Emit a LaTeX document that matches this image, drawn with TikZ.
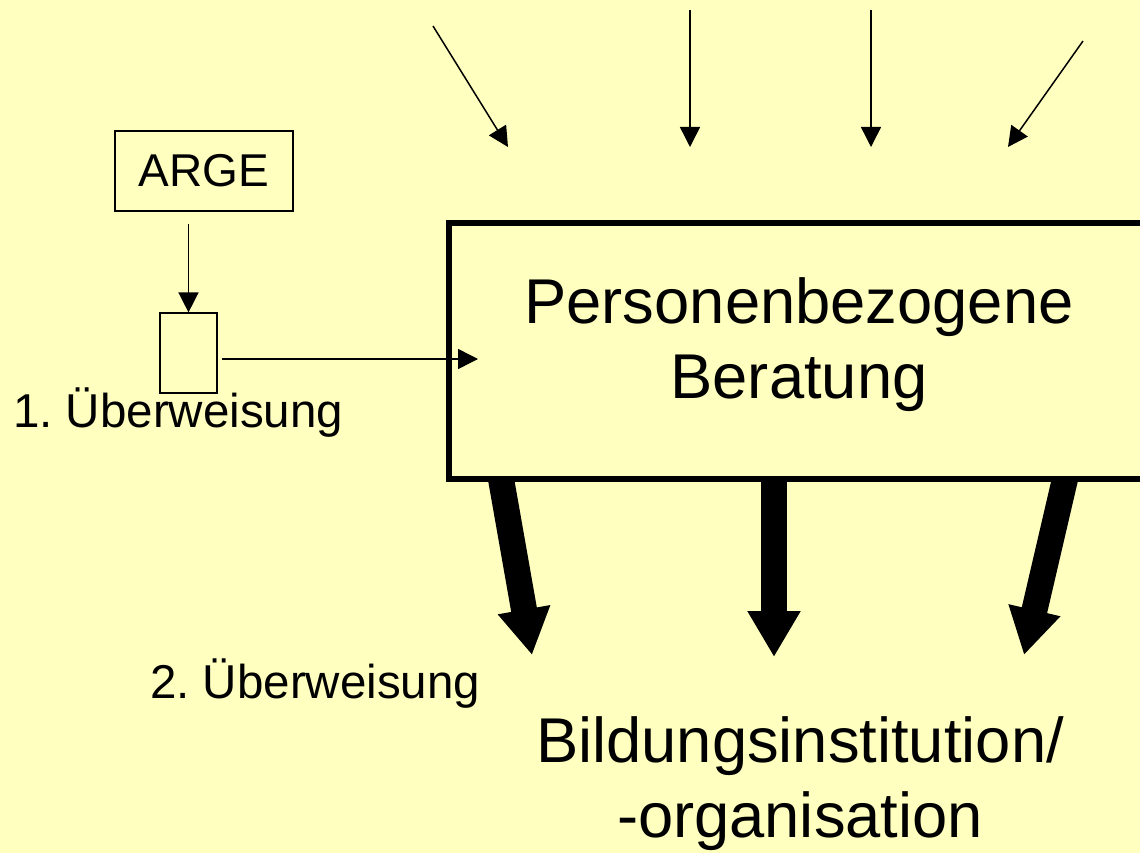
\documentclass[tikz,border=0pt]{standalone}
\usepackage{fontspec}
\setmainfont{Liberation Sans}
\usetikzlibrary{arrows.meta}
\frenchspacing
\definecolor{bgyellow}{HTML}{FFFFC0}
\tikzset{
  thinarrow/.style={line width=1.5pt,-{Triangle[length=20pt,width=20pt]}},
  bigarrow/.style={line width=26pt,-{Triangle[length=46pt,width=50pt]}},
  smallbox/.style={draw,line width=1.2pt,inner sep=0pt},
  bigtext/.style={font=\fontsize{63.3}{75}\selectfont,align=center,inner sep=0pt},
  smalltext/.style={font=\fontsize{47.5}{55}\selectfont,inner sep=0pt}
}
\begin{document}
\begin{tikzpicture}[x=1pt,y=-1pt]
\useasboundingbox (0,0) rectangle (1140,853);
\clip (0,0) rectangle (1140,853);
\fill[bgyellow] (0,0) rectangle (1140,853);

% top incoming arrows
\coordinate (t1a) at (433,26);  \coordinate (t1b) at (508,147);
\coordinate (t2a) at (690,10);  \coordinate (t2b) at (690,147);
\coordinate (t3a) at (871,10);  \coordinate (t3b) at (871,147);
\coordinate (t4a) at (1083,41); \coordinate (t4b) at (1008,147);
\draw[thinarrow] (t1a) -- (t1b);
\draw[thinarrow] (t2a) -- (t2b);
\draw[thinarrow] (t3a) -- (t3b);
\draw[thinarrow] (t4a) -- (t4b);

% big outgoing arrows
\coordinate (b1a) at (501,479); \coordinate (b1b) at (532,655);
\coordinate (b2a) at (774,479); \coordinate (b2b) at (774,657);
\coordinate (b3a) at (1065,479); \coordinate (b3b) at (1024,655);
\draw[bigarrow] (b1a) -- (b1b);
\draw[bigarrow] (b2a) -- (b2b);
\draw[bigarrow] (b3a) -- (b3b);

% big box (extends beyond right edge)
\node[draw,line width=6pt,minimum width=711.5pt,minimum height=256pt,inner sep=0pt]
  (box) at (804.25,351) {};
\node[bigtext] (beratung) at (799,345) {Personenbezogene\\Beratung};

% ARGE and small box
\node[smallbox,minimum width=178pt,minimum height=80pt,font=\fontsize{46}{54}\selectfont]
  (arge) at (204,171) {ARGE};
\node[smallbox,minimum width=57pt,minimum height=80pt] (sb) at (188.5,353) {};
\coordinate (h1) at (478,359);
\draw[thinarrow,shorten <=12pt] (arge.south -| sb.north) -- (sb.north);
\draw[thinarrow,shorten <=4pt] (sb.east |- h1) -- (h1);

\node[smalltext,anchor=base west] (ue1) at (13,427) {1. Überweisung};
\node[smalltext,anchor=base west] (ue2) at (150,698) {2. Überweisung};

\node[bigtext] (bildung) at (800,784) {Bildungsinstitution/\\-organisation};
\end{tikzpicture}
\end{document}
